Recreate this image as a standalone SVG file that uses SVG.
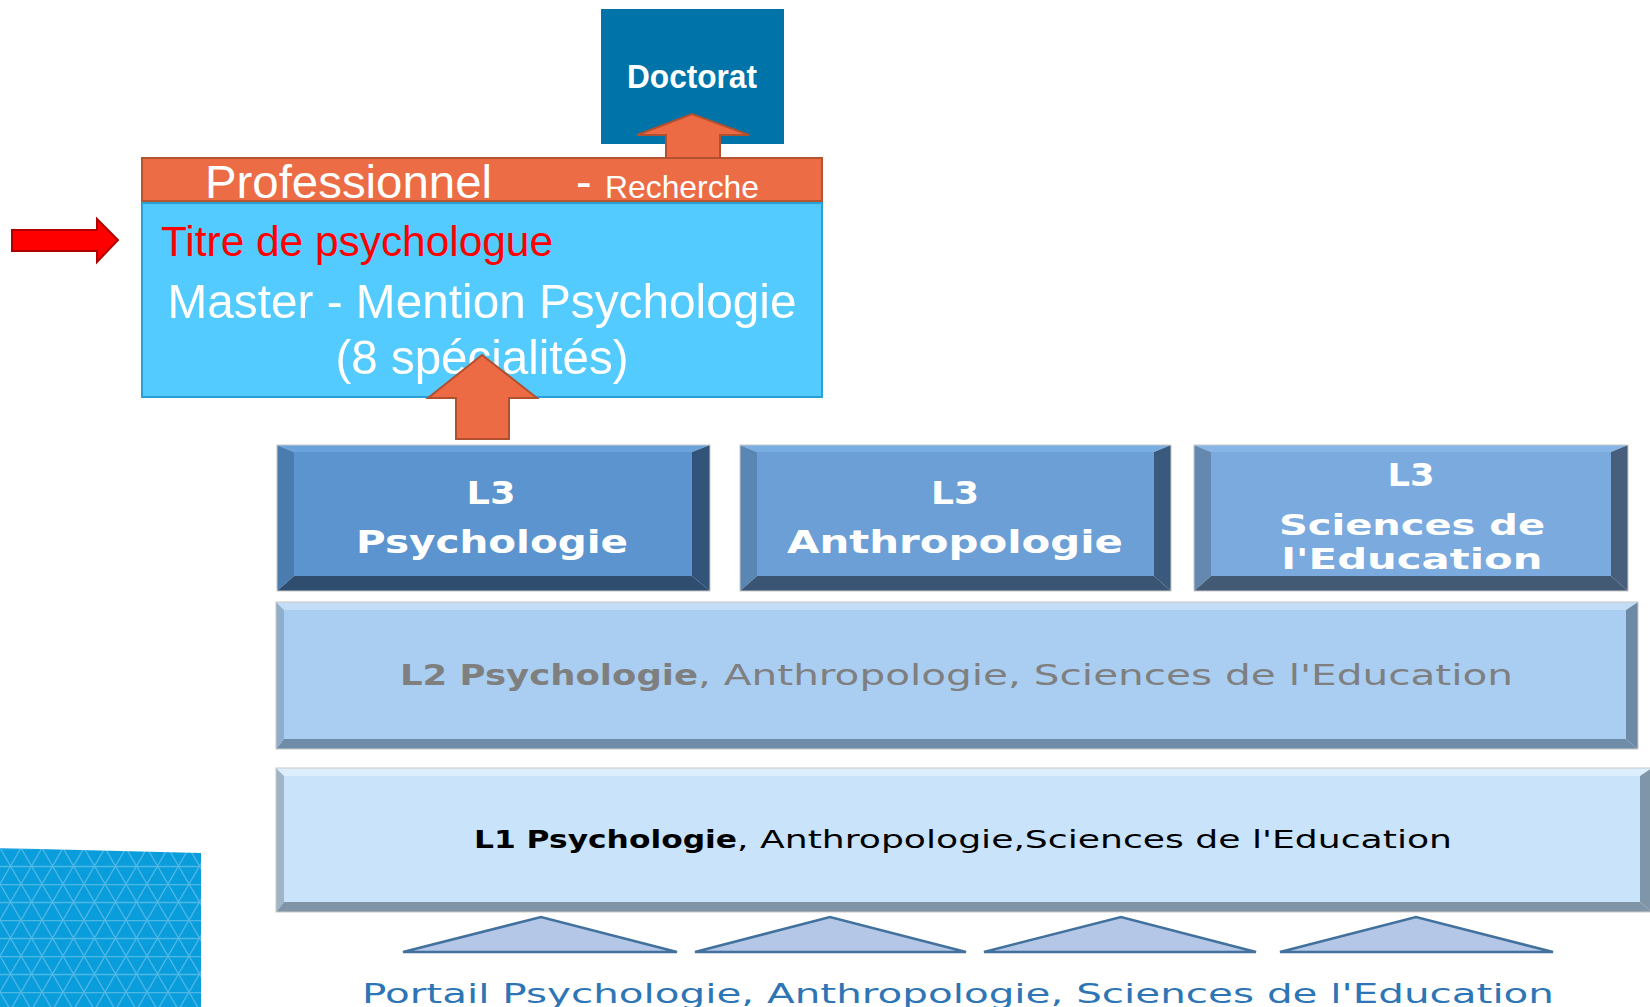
<svg xmlns="http://www.w3.org/2000/svg" width="1650" height="1007" viewBox="0 0 1650 1007">
<style>
.sans{font-family:"Liberation Sans",Arial,sans-serif}
.wide{font-family:"DejaVu Sans",Verdana,sans-serif}
.w{fill:#ffffff}
.b{font-weight:bold}
.arrow{fill:#EC6B44;stroke:#B0502E;stroke-width:2}
.tri{fill:#B4C7E7;stroke:#41719C;stroke-width:2.5;stroke-linejoin:miter}
.outer{fill:none;stroke:#C8C8C8;stroke-width:1}
</style>
<defs>
<pattern id="tri" patternUnits="userSpaceOnUse" width="21" height="36" x="0" y="848">
<rect width="21" height="36" fill="#0A9DDC"/>
<path d="M0 0.5H21M0 18.5H21M0 0L21 36M21 0L0 36" stroke="#4DB7E6" stroke-width="1.3" fill="none"/>
</pattern>
</defs>
<rect width="1650" height="1007" fill="#ffffff"/>

<g id="decor">
<polygon points="0,848 201,853 201,1007 0,1007" fill="url(#tri)"/>
</g>

<g id="doctorat">
<rect x="601" y="9" width="183" height="135" fill="#0073A8"/>
<text x="692" y="88" text-anchor="middle" class="sans b w" font-size="33" textLength="130" lengthAdjust="spacingAndGlyphs">Doctorat</text>
</g>

<g id="parcours">
<rect x="142" y="158" width="680" height="43" fill="#EC6C45" stroke="#B55530" stroke-width="2"/>
<text x="205" y="198" class="sans w" font-size="47" textLength="287" lengthAdjust="spacingAndGlyphs">Professionnel</text>
<text x="576" y="198" class="sans w" font-size="47">-</text>
<text x="605" y="198" class="sans w" font-size="32" textLength="154" lengthAdjust="spacingAndGlyphs">Recherche</text>
</g>

<g id="master">
<rect x="142" y="203" width="680" height="194" fill="#53CBFE" stroke="#2A9FD6" stroke-width="2"/>
<text x="161" y="256" class="sans" fill="#FF0000" font-size="43" textLength="392" lengthAdjust="spacingAndGlyphs">Titre de psychologue</text>
<text x="482" y="318" text-anchor="middle" class="sans w" font-size="49" textLength="629" lengthAdjust="spacingAndGlyphs">Master - Mention Psychologie</text>
<text x="482" y="374" text-anchor="middle" class="sans w" font-size="49" textLength="293" lengthAdjust="spacingAndGlyphs">(8 spécialités)</text>
</g>

<g id="l3-psychologie">
<polygon points="277,445 710,445 692,452 294,452" fill="#6AA3DC"/>
<polygon points="277,445 294,452 294,576 277,591" fill="#4A7CB0"/>
<polygon points="710,445 710,591 692,576 692,452" fill="#33547A"/>
<polygon points="277,591 294,576 692,576 710,591" fill="#2F4D6E"/>
<rect x="294" y="452" width="398" height="124" fill="#5B94CE"/>
<rect x="277" y="445" width="433" height="146" class="outer"/>
<text x="491" y="504" text-anchor="middle" class="wide b w" font-size="32" textLength="49" lengthAdjust="spacingAndGlyphs">L3</text>
<text x="492" y="553" text-anchor="middle" class="wide b w" font-size="32" textLength="272" lengthAdjust="spacingAndGlyphs">Psychologie</text>
</g>

<g id="l3-anthropologie">
<polygon points="740,445 1171,445 1154,452 757,452" fill="#78AEE2"/>
<polygon points="740,445 757,452 757,576 740,591" fill="#5A86B4"/>
<polygon points="1171,445 1171,591 1154,576 1154,452" fill="#3A5A7D"/>
<polygon points="740,591 757,576 1154,576 1171,591" fill="#3A5573"/>
<rect x="757" y="452" width="397" height="124" fill="#6B9FD5"/>
<rect x="740" y="445" width="431" height="146" class="outer"/>
<text x="955" y="504" text-anchor="middle" class="wide b w" font-size="32" textLength="48" lengthAdjust="spacingAndGlyphs">L3</text>
<text x="955" y="553" text-anchor="middle" class="wide b w" font-size="32" textLength="336" lengthAdjust="spacingAndGlyphs">Anthropologie</text>
</g>

<g id="l3-sciences-education">
<polygon points="1194,445 1628,445 1611,452 1211,452" fill="#86B5E6"/>
<polygon points="1194,445 1211,452 1211,576 1194,591" fill="#6588B0"/>
<polygon points="1628,445 1628,591 1611,576 1611,452" fill="#475E7C"/>
<polygon points="1194,591 1211,576 1611,576 1628,591" fill="#435A75"/>
<rect x="1211" y="452" width="400" height="124" fill="#7AAADE"/>
<rect x="1194" y="445" width="434" height="146" class="outer"/>
<text x="1411" y="486" text-anchor="middle" class="wide b w" font-size="32" textLength="47" lengthAdjust="spacingAndGlyphs">L3</text>
<text x="1412" y="535" text-anchor="middle" class="wide b w" font-size="29" textLength="266" lengthAdjust="spacingAndGlyphs">Sciences de</text>
<text x="1412" y="569" text-anchor="middle" class="wide b w" font-size="29" textLength="261" lengthAdjust="spacingAndGlyphs">l'Education</text>
</g>

<g id="l2">
<polygon points="276,602 1638,602 1626,610 284,610" fill="#C3DDF6"/>
<polygon points="276,602 284,610 284,739 276,749" fill="#8FAECB"/>
<polygon points="1638,602 1638,749 1626,739 1626,610" fill="#6C8AA6"/>
<polygon points="276,749 284,739 1626,739 1638,749" fill="#6F8DA9"/>
<rect x="284" y="610" width="1342" height="129" fill="#A9CEF2"/>
<rect x="276" y="602" width="1362" height="147" class="outer"/>
<text x="400" y="685" class="wide b" fill="#7F7F7F" font-size="28" textLength="298" lengthAdjust="spacingAndGlyphs">L2 Psychologie</text>
<text x="698" y="685" class="wide" fill="#7F7F7F" font-size="28" textLength="815" lengthAdjust="spacingAndGlyphs">, Anthropologie, Sciences de l'Education</text>
</g>

<g id="l1">
<polygon points="276,768 1652,768 1640,776 284,776" fill="#DCEEFC"/>
<polygon points="276,768 284,776 284,902 276,912" fill="#9FB4C6"/>
<polygon points="1652,768 1652,912 1640,902 1640,776" fill="#7F95A8"/>
<polygon points="276,912 284,902 1640,902 1652,912" fill="#8195A8"/>
<rect x="284" y="776" width="1356" height="126" fill="#C9E3FA"/>
<rect x="276" y="768" width="1376" height="144" class="outer"/>
<text x="474" y="848" class="wide b" fill="#000000" font-size="25" textLength="263" lengthAdjust="spacingAndGlyphs">L1 Psychologie</text>
<text x="737" y="848" class="wide" fill="#000000" font-size="25" textLength="715" lengthAdjust="spacingAndGlyphs">, Anthropologie,Sciences de l'Education</text>
</g>

<g id="portail">
<polygon class="tri" points="403,952 541,917 677,952"/>
<polygon class="tri" points="695,952 830,917 966,952"/>
<polygon class="tri" points="984,952 1121,917 1256,952"/>
<polygon class="tri" points="1280,952 1416,917 1553,952"/>
<text x="362" y="1003" class="wide" fill="#2E75B6" font-size="26" textLength="1192" lengthAdjust="spacingAndGlyphs">Portail Psychologie, Anthropologie, Sciences de l'Education</text>
</g>

<g id="connectors">
<polygon class="arrow" points="666,158 666,135 637,135 692,114 749,135 720,135 720,158"/>
<polygon class="arrow" points="456,439 456,398 428,398 482,355 537,398 509,398 509,439"/>
<polygon points="12,230 97,230 97,219 118,240 97,262 97,251 12,251" fill="#FF0000" stroke="#B00000" stroke-width="2"/>
</g>
</svg>
